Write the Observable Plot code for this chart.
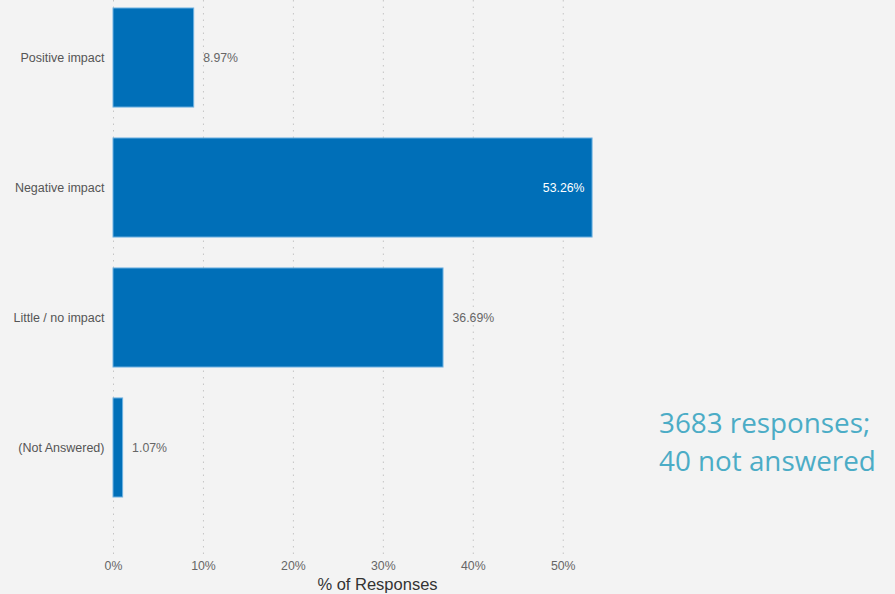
<!DOCTYPE html>
<html>
<head>
<meta charset="utf-8">
<script src="https://cdn.jsdelivr.net/npm/d3@7"></script>
<script src="https://cdn.jsdelivr.net/npm/@observablehq/plot@0.6"></script>
<style>
  html, body { margin: 0; padding: 0; background: #f3f3f3; }
  #wrap { position: relative; width: 895px; height: 594px; overflow: hidden; }
  #note { position: absolute; left: 659px; top: 403px; font-family: "Open Sans", "Noto Sans", sans-serif;
          font-size: 27.8px; line-height: 38px; color: #4bacc6; white-space: nowrap; }
  svg [aria-label="x-axis label"] text { font-size: 16.5px; fill: #333; }
</style>
</head>
<body>
<div id="wrap"><div id="chart"></div><div id="note"></div></div>
<script>
const categories = ["Positive impact", "Negative impact", "Little / no impact", "(Not Answered)"];
const values = [8.97, 53.26, 36.69, 1.07];
const xTicks = [0, 10, 20, 30, 40, 50];
const noteLines = ["3683 responses;", "40 not answered"];

const data = categories.map((c, i) => ({category: c, value: values[i]}));
const maxV = d3.max(values);

const chart = Plot.plot({
  width: 895,
  height: 594,
  marginTop: 0,
  marginBottom: 40,
  marginLeft: 113,
  marginRight: 254,
  style: {background: "#f3f3f3", fontFamily: "'Liberation Sans', Arial, sans-serif", fontSize: "12px", color: "#666"},
  x: {domain: [0, 58.7], ticks: xTicks, tickFormat: d => d + "%"},
  y: {domain: categories, paddingInner: 0.238, paddingOuter: 0.25, align: 0.123, round: false},
  marks: [
    Plot.gridX(xTicks, {stroke: "#c4c4c4", strokeOpacity: 1, strokeDasharray: "1.5,5"}),
    Plot.barX(data, {x: "value", y: "category", fill: "#006fb8", stroke: "#6fb2e2", strokeWidth: 1, inset: 0}),
    Plot.text(data.filter(d => d.value !== maxV), {x: "value", y: "category", text: d => d.value.toFixed(2) + "%", textAnchor: "start", dx: 9, fill: "#666", fontSize: 12.3}),
    Plot.text(data.filter(d => d.value === maxV), {x: "value", y: "category", text: d => d.value.toFixed(2) + "%", textAnchor: "end", dx: -8, fill: "white", fontSize: 12.3}),
    Plot.axisY({tickSize: 0, tickPadding: 9, label: null, fill: "#555", fontSize: 12.5}),
    Plot.axisX({ticks: xTicks, tickFormat: d => d + "%", tickSize: 0, tickPadding: 7, fill: "#666", fontSize: 12.3, label: "% of Responses", labelAnchor: "center", labelOffset: 35, labelArrow: "none"})
  ]
});
document.getElementById("chart").appendChild(chart);
document.getElementById("note").innerHTML = noteLines.join("<br>");
</script>
</body>
</html>
